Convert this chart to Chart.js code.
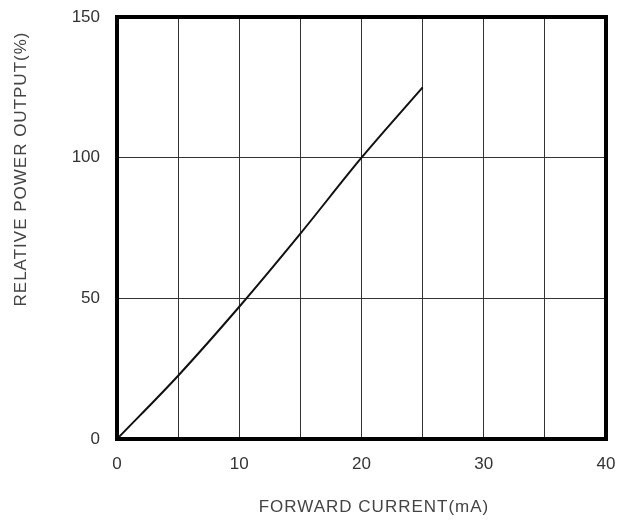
<!DOCTYPE html>
<html>
<head>
<meta charset="utf-8">
<script src="https://cdn.jsdelivr.net/npm/chart.js@4/dist/chart.umd.min.js"></script>
<style>
  html, body { margin: 0; padding: 0; background: #fff; }
  #wrap { width: 620px; height: 520px; }
</style>
</head>
<body>
<div id="wrap"><canvas id="ledChart" width="620" height="520"></canvas></div>
<script>
// forward current (mA) vs relative power output (%)
const currentMA = [0, 5, 10, 15, 20, 25];
const powerPct = [0, 22.5, 47, 73, 100, 125];
const xTitle = "FORWARD CURRENT(mA)";
const yTitle = "RELATIVE POWER OUTPUT(%)";

const FONT = "'Liberation Sans', Arial, sans-serif";

// thick frame round the plot, and both axis titles (spaced out like the original)
const framePlugin = {
  id: 'frame',
  afterDraw(chart) {
    const { ctx, chartArea: a } = chart;
    ctx.save();
    ctx.strokeStyle = '#000';
    ctx.lineWidth = 4;
    ctx.strokeRect(a.left, a.top, a.right - a.left, a.bottom - a.top);

    ctx.fillStyle = '#444';
    ctx.font = "17px " + FONT;
    ctx.letterSpacing = '1px';
    ctx.textAlign = 'center';
    ctx.textBaseline = 'middle';
    ctx.fillText(xTitle, 374, 507);

    ctx.translate(21, 169);
    ctx.rotate(-Math.PI / 2);
    ctx.fillText(yTitle, 0, 0);
    ctx.restore();
  }
};

new Chart(document.getElementById("ledChart"), {
  type: 'line',
  data: {
    datasets: [{
      data: currentMA.map((x, i) => ({ x, y: powerPct[i] })),
      borderColor: '#111',
      borderWidth: 2,
      pointRadius: 0,
      cubicInterpolationMode: 'monotone',
      fill: false
    }]
  },
  options: {
    responsive: false,
    animation: false,
    layout: { padding: { top: 17, right: 14, left: 0, bottom: 0 } },
    plugins: { legend: { display: false }, tooltip: { enabled: false } },
    scales: {
      x: {
        type: 'linear',
        min: 0, max: 40,
        afterFit: s => { s.height = 81; s.paddingLeft = 0; s.paddingRight = 0; },
        ticks: {
          stepSize: 5,
          autoSkip: false,
          maxRotation: 0,
          padding: 15,
          color: '#333',
          font: { family: FONT, size: 17 },
          callback: v => (v % 10 === 0 ? v : '')
        },
        grid: { color: '#333', lineWidth: 1, drawTicks: false },
        border: { display: false }
      },
      y: {
        min: 0, max: 150,
        afterFit: s => { s.width = 117; s.paddingTop = 0; s.paddingBottom = 0; },
        ticks: {
          stepSize: 50,
          padding: 17,
          color: '#333',
          font: { family: FONT, size: 17 }
        },
        grid: { color: '#333', lineWidth: 1, drawTicks: false },
        border: { display: false }
      }
    }
  },
  plugins: [framePlugin]
});
</script>
</body>
</html>
